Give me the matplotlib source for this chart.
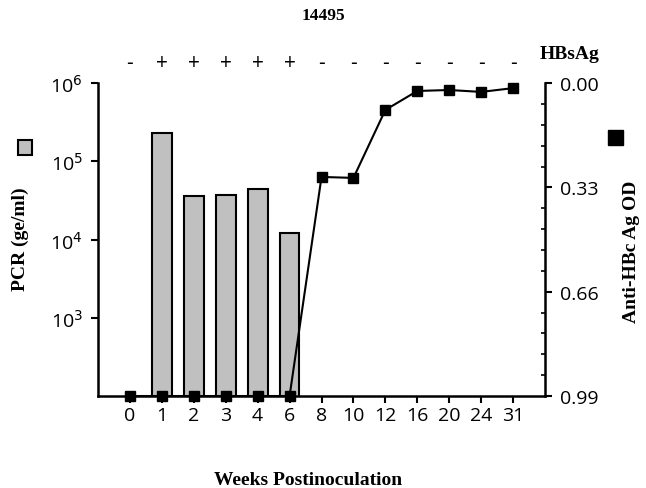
import matplotlib.pyplot as plt
import numpy as np

weeks = ['0', '1', '2', '3', '4', '6', '8', '10', '12', '16', '20', '24', '31']
pcr = [np.nan, 2.3e5, 3.6e4, 3.7e4, 4.4e4, 1.2e4, np.nan, np.nan, np.nan, np.nan, np.nan, np.nan, np.nan]
anti_hbc_od = [0.99, 0.99, 0.99, 0.99, 0.99, 0.99, 0.297, 0.30, 0.085, 0.025, 0.022, 0.028, 0.016]
hbsag = ['-', '+', '+', '+', '+', '+', '-', '-', '-', '-', '-', '-', '-']

serif = 'Liberation Serif'
sans = 'Open Sans'

fig = plt.figure(figsize=(6.46, 4.89), dpi=100)
ax = fig.add_axes([0.1517, 0.1881, 0.692, 0.640])
x = np.arange(len(weeks))

# PCR bars on log axis
ax.bar(x, np.nan_to_num(pcr, nan=1e-3), width=0.62, color='#c0c0c0', edgecolor='black', linewidth=1.5, zorder=2)
ax.set_yscale('log')
ax.set_ylim(1e2, 1e6)
ax.set_xlim(-1, 13)
ax.set_yticks([1e3, 1e4, 1e5, 1e6])
ax.set_yticklabels(['10$^3$', '10$^4$', '10$^5$', '10$^6$'], fontfamily=sans, fontsize=14)
ax.minorticks_off()
ax.set_xticks(x)
ax.set_xticklabels(weeks, fontfamily=sans, fontsize=14)
ax.tick_params(axis='both', width=1.5, length=5, direction='out', pad=6)
ax.tick_params(axis='x', pad=2)
for s in ['top', 'right']:
    ax.spines[s].set_visible(False)
for s in ['left', 'bottom']:
    ax.spines[s].set_linewidth(1.8)

# Anti-HBc OD on inverted right axis
ax2 = ax.twinx()
ax2.plot(x, anti_hbc_od, color='black', lw=1.5, marker='s', markersize=6.5, clip_on=False, zorder=5)
ax2.set_ylim(0.99, 0.0)
ax2.set_yticks([0.0, 0.33, 0.66, 0.99])
ax2.set_yticklabels(['0.00', '0.33', '0.66', '0.99'], fontfamily=sans, fontsize=14)
ax2.set_yticks(np.arange(0, 0.99, 0.066), minor=True)
ax2.tick_params(axis='y', which='major', width=1.5, length=5, direction='out', pad=6)
ax2.tick_params(axis='y', which='minor', width=1.2, length=3, direction='in')
for s in ['top', 'left', 'bottom']:
    ax2.spines[s].set_visible(False)
ax2.spines['right'].set_linewidth(1.8)

# HBsAg status row
for xi, sign in zip(x, hbsag):
    ax.text(xi, 1.065, sign, transform=ax.get_xaxis_transform(), ha='center', va='center',
            fontfamily=sans, fontsize=15)
fig.text(0.882, 0.888, 'HBsAg', ha='center', va='center', fontfamily=serif, fontweight='bold', fontsize=14)

fig.text(0.5, 0.968, '14495', ha='center', va='center', fontfamily=serif, fontweight='bold', fontsize=12.5)
fig.text(0.477, 0.018, 'Weeks Postinoculation', ha='center', va='center', fontfamily=serif, fontweight='bold', fontsize=14)
fig.text(0.031, 0.51, 'PCR (ge/ml)', rotation=90, ha='center', va='center', fontfamily=serif, fontweight='bold', fontsize=14)
fig.text(0.978, 0.485, 'Anti-HBc Ag OD', rotation=90, ha='center', va='center', fontfamily=serif, fontweight='bold', fontsize=14)

# legend-style markers beside the axis labels
fig.patches.append(plt.Rectangle((0.028, 0.682), 0.022, 0.029, transform=fig.transFigure,
                                 facecolor='#c0c0c0', edgecolor='black', linewidth=1.5))
fig.patches.append(plt.Rectangle((0.941, 0.702), 0.023, 0.031, transform=fig.transFigure,
                                 facecolor='black', edgecolor='black', linewidth=1))

fig.savefig('out.png', dpi=100)
